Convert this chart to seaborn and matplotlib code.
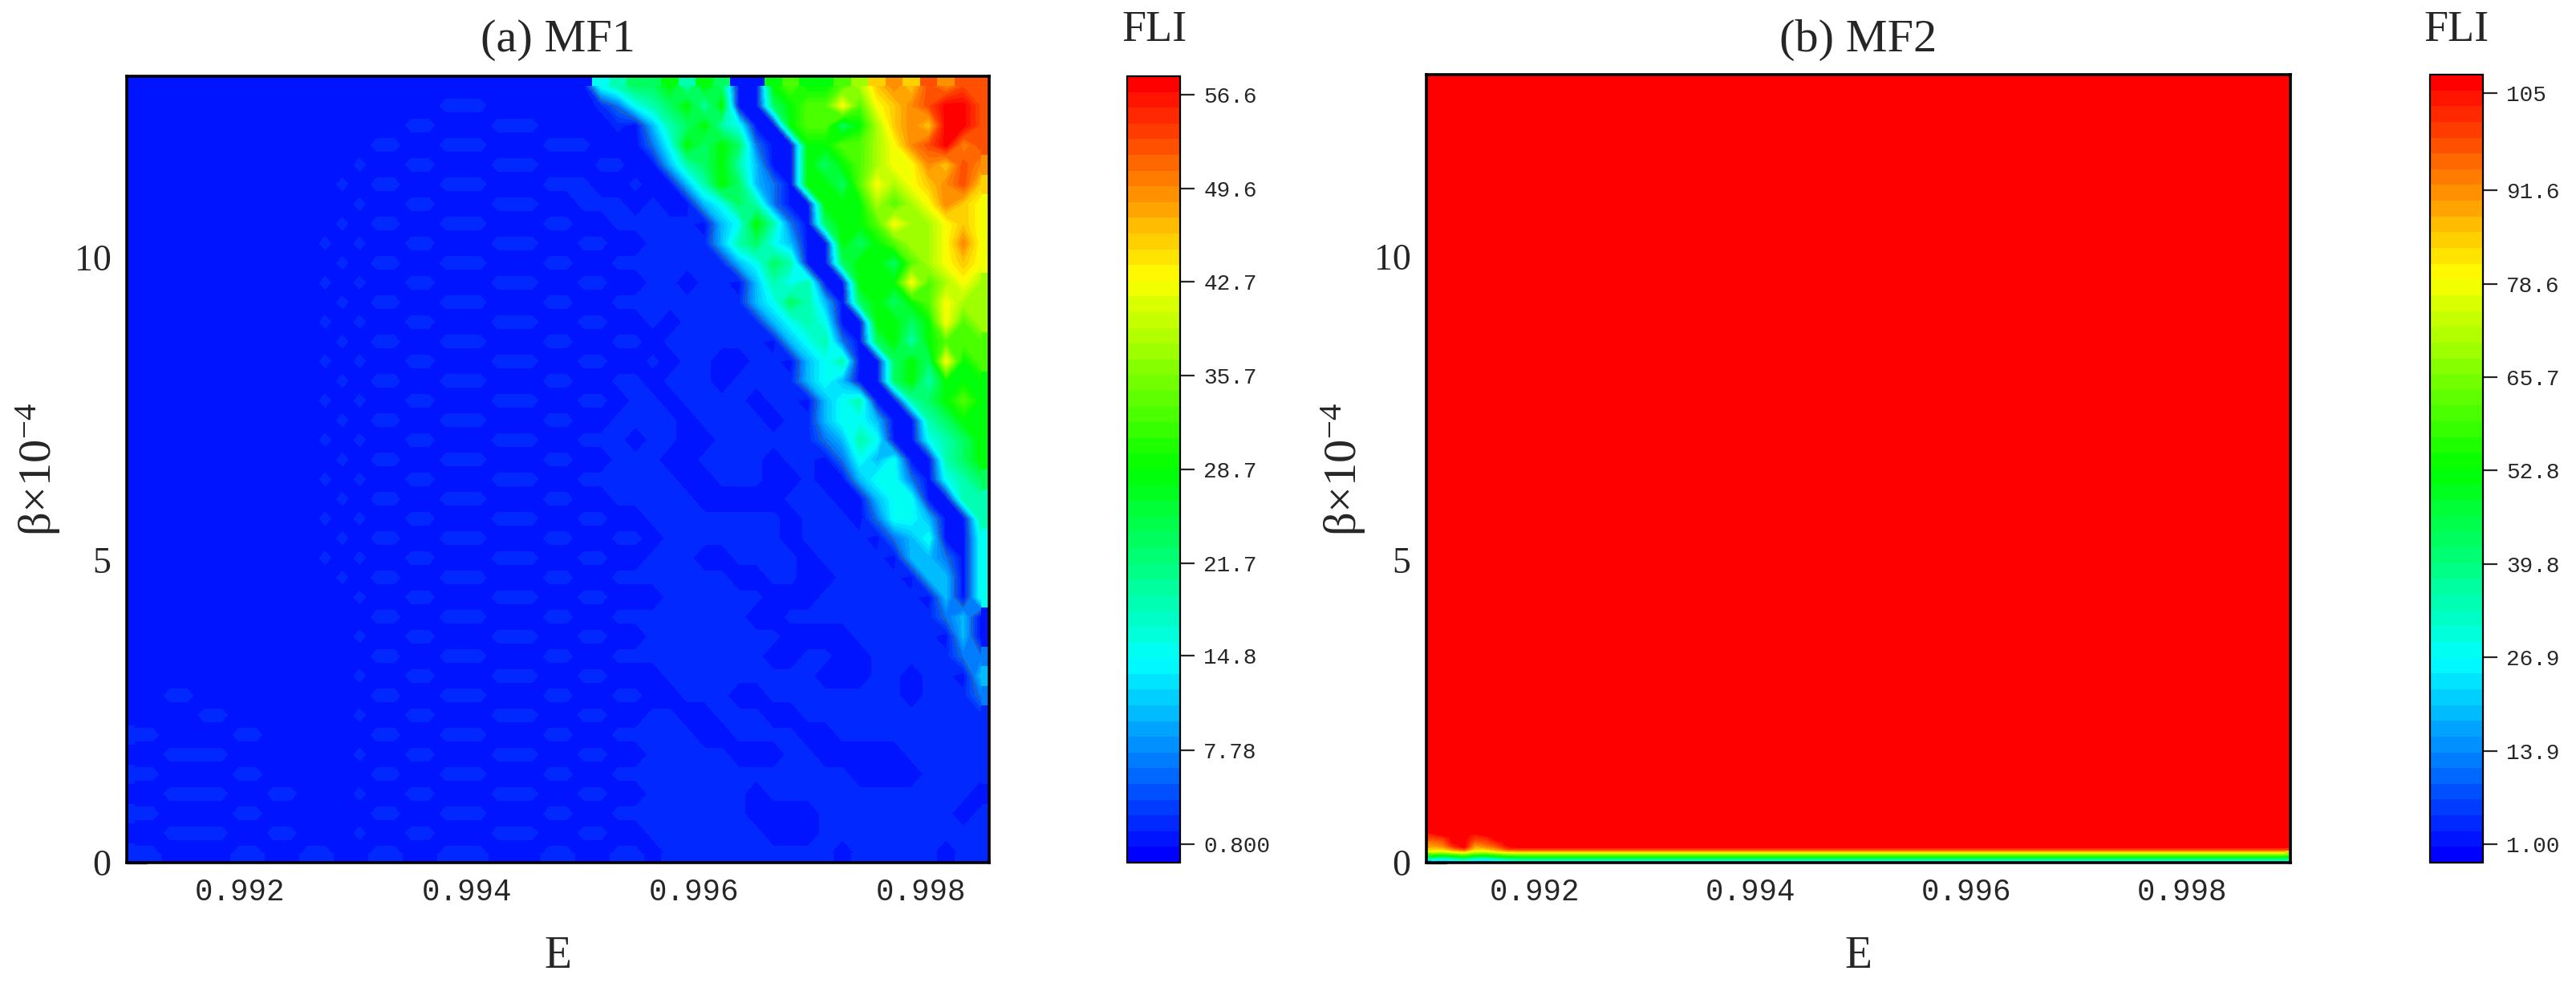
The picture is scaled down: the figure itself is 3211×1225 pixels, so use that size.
import numpy as np
import seaborn as sns
import matplotlib
matplotlib.use('Agg')
import matplotlib.pyplot as plt
from matplotlib.colors import LinearSegmentedColormap, ListedColormap

sns.set_style('ticks')
plt.rcParams['font.family'] = ['Liberation Serif', 'DejaVu Serif']
plt.rcParams['mathtext.fontset'] = 'custom'
plt.rcParams['mathtext.rm'] = 'Liberation Serif'
plt.rcParams['mathtext.default'] = 'regular'

W, H = 3212, 1225
TICK_FONT = 'Liberation Mono'

# fli codes used in the MF1 rows below
code_chars = '0123456789abcde'
code_values = [2.2, 0.8, 6.5, 10.5, 15, 19, 23, 28.5, 33, 38, 42.7, 46, 49.6, 53, 57.5]

# MF1, top row is beta=13, left column is E=0.991
mf1_rows = [
    '1111111111 1111111111 1111111456 6757611787 789bcbdcdd',
    '1111111111 1111111100 0111111024 5675711678 8a8abcdeed',
    '1111111111 1111110011 1000111101 3567541178 8679bcbeed',
    '1111111111 1111001100 0111000111 2476762117 7889acdecd',
    '1111111111 1110110011 1000111001 1356753117 6789aacbdc',
    '1111111111 1101001100 0111000110 1135763217 768a9abcdb',
    '1111111111 1110110011 1000110001 0113465211 777989acba',
    '1111111111 1101001100 0111001100 0001347521 6778a99aba',
    '1111111111 1010110011 1000110011 0000356431 1767899aca',
    '1111111111 1101001100 0111001100 0000034651 1677689aba',
    '1111111111 1010110011 1000110011 0010013545 11777a89a9',
    '1111111111 1101001100 0111001100 0000003465 3167678a99',
    '1111111111 1010110011 1000110011 0100000345 4117767a89',
    '1111111111 1101001100 0111001100 1000000134 5216757888',
    '1111111111 1010110011 1000110011 0100110013 4511676a78',
    '1111111111 1101001100 0111001100 1000100003 4311675777',
    '1111111111 1010110011 1000110010 0100001001 3451156787',
    '1111111111 1101001100 0111001100 0010000100 3443115677',
    '1111111111 1010110011 1000110001 0011000000 2354114567',
    '1111111111 1101001100 0111001100 0110000100 1243411567',
    '1111111111 1010110011 1000110000 0011000110 1134421456',
    '1111111111 1101001100 0111001100 0001111100 0113441155',
    '1111111111 1010110011 1000110011 0000000010 0012443115',
    '1111111111 1101001100 0111001100 1000000010 0001234114',
    '1111111111 1010110011 1000110011 0001100001 0000133214',
    '1111111111 1101001100 0111001100 0000011001 1000013314',
    '1111111111 1110110011 1000110011 1000000111 0000001314',
    '1111111111 1111001100 0111001100 0000001100 0000000231',
    '1111111111 1110110011 1000110011 0000000011 1100000131',
    '1111111111 1111001100 0111001100 0000000110 0110000022',
    '1111111111 1110110011 1000110011 1000000000 1110010013',
    '1100111111 1111001100 0111001100 1100011000 0000010002',
    '1111001111 1110110011 1000110011 0011000110 0000000000',
    '0011110011 1111001100 0111001100 0001100001 1000000000',
    '1100001111 1110110011 1000110011 0000011100 1111100000',
    '0011110011 1111001100 0111001100 0000000000 0011110000',
    '1100001100 1110110011 1000110011 0000001000 0000000001',
    '0011110011 1111001100 0111001100 0000001111 0000000010',
    '1100001100 1110110011 1000110011 0000000111 0000000000',
    '0011110011 0011001100 0111001100 1000000000 0100000100',
]

# MF2 bottom rows, first row is lowest, ten left columns near E=0.991
mf2_low = [
    [20, 18, 20, 26, 20, 18, 22, 25, 27, 27],
    [32, 28, 32, 36, 30, 28, 32, 36, 38, 40],
    [48, 44, 48, 52, 46, 44, 50, 52, 53, 53],
    [60, 58, 62, 66, 60, 58, 62, 66, 68, 68],
    [76, 74, 80, 84, 74, 74, 80, 84, 85, 85],
    [85, 84, 92, 98, 84, 85, 90, 98, 100, 100],
    [88, 90, 100, 107, 88, 92, 96, 104, 107, 107],
    [92, 94, 104, 107, 92, 95, 100, 107, 107, 107],
    [94, 96, 107, 107, 96, 98, 103, 107, 107, 107],
    [97, 99, 107, 107, 99, 100, 107, 107, 107, 107],
    [100, 102, 107, 107, 102, 103, 107, 107, 107, 107],
    [103, 107, 107, 107, 104, 107, 107, 107, 107, 107],
]
mf2_tail = [27, 40, 53, 68, 85, 100, 107, 107, 107, 107, 107, 107]
mf2_top = 107

mf1_cbar_ticks = [0.8, 7.78, 14.8, 21.7, 28.7, 35.7, 42.7, 49.6, 56.6]
mf1_cbar_labels = ['0.800', '7.78', '14.8', '21.7', '28.7', '35.7', '42.7', '49.6', '56.6']
mf2_cbar_ticks = [1.0, 13.9, 26.9, 39.8, 52.8, 65.7, 78.6, 91.6, 105]
mf2_cbar_labels = ['1.00', '13.9', '26.9', '39.8', '52.8', '65.7', '78.6', '91.6', '105']
e_major = [0.992, 0.994, 0.996, 0.998]
e_minor = [0.993, 0.995, 0.997]
beta_major = [0, 5, 10]
beta_minor = [2.5, 7.5, 12.5]
BETA_MAX = 13.0
N_LEVELS = 50

rainbow = LinearSegmentedColormap.from_list('fli', ['#0000ff', '#00ffff', '#00ff00', '#ffff00', '#ff0000'])
fli_cmap = ListedColormap(rainbow(np.linspace(0, 1, N_LEVELS)))

lookup = dict(zip(code_chars, code_values))
mf1 = np.array([[lookup[c] for c in r.replace(' ', '')] for r in mf1_rows])

n_cols2, n_rows2 = 80, 325
low = np.hstack([np.array(mf2_low), np.tile(np.array(mf2_tail)[:, None], (1, n_cols2 - 10))])
mf2 = np.full((n_rows2, n_cols2), float(mf2_top))
mf2[-len(low):] = low[::-1]


def px_box(x0, y0, x1, y1):
    return [x0 / W, 1 - y1 / H, (x1 - x0) / W, (y1 - y0) / H]


def draw_panel(field, box, cbox, e_max, vmin, vmax, ticks, labels, title, ylab_x, fli_x, outline=None):
    ax = fig.add_axes(px_box(*box))
    cax = fig.add_axes(px_box(*cbox))
    sns.heatmap(field, ax=ax, cbar_ax=cax, cmap=fli_cmap, vmin=vmin, vmax=vmax,
                xticklabels=False, yticklabels=False)
    nr, nc = field.shape
    xx = np.arange(nc) + 0.5
    yy = np.arange(nr) + 0.5
    # smooth the cells like the original contour map
    ax.contourf(xx, yy, field, levels=np.linspace(vmin, vmax, N_LEVELS + 1), cmap=fli_cmap, extend='both')
    if outline is not None:
        ax.contour(xx, yy, field, levels=[outline], colors='#50506a', linewidths=0.8, alpha=0.8)

    to_x = lambda e: (np.array(e) - 0.991) / (e_max - 0.991) * nc
    to_y = lambda b: (BETA_MAX - np.array(b)) / BETA_MAX * nr
    ax.set_xlim(0, nc)
    ax.set_ylim(nr, 0)
    ax.set_xticks(to_x(e_major))
    ax.set_xticklabels(['%.3f' % e for e in e_major], fontsize=27, family=TICK_FONT)
    ax.set_xticks(to_x(e_minor), minor=True)
    ax.set_yticks(to_y(beta_major))
    ax.set_yticklabels([str(b) for b in beta_major], fontsize=33, rotation=0)
    ax.set_yticks(to_y(beta_minor), minor=True)
    ax.tick_params(which='major', direction='in', length=18, width=2.4, pad=14, left=True, bottom=True)
    ax.tick_params(which='minor', direction='in', length=9, width=2.2, left=True, bottom=True)
    for s in ax.spines.values():
        s.set_visible(True)
        s.set_linewidth(2.6)
        s.set_color('black')

    cb = ax.collections[0].colorbar
    cb.set_ticks(ticks)
    cb.set_ticklabels(labels)
    cb.ax.minorticks_off()
    cb.ax.tick_params(direction='out', length=13, width=1.6, pad=8, labelsize=20)
    for t in cb.ax.get_yticklabels():
        t.set_family(TICK_FONT)
    cb.outline.set_visible(True)
    cb.outline.set_linewidth(1.6)
    cb.outline.set_edgecolor('black')

    xc = (box[0] + box[2]) / 2 / W
    fig.text(xc, 1 - 50 / H, title, fontsize=42, ha='center', va='center')
    fig.text(xc, 1 - 1192 / H, 'E', fontsize=40, ha='center', va='center')
    fig.text(ylab_x / W, 1 - 585 / H, 'β×10$^{-4}$', fontsize=42, rotation=90, ha='center', va='center')
    fig.text(fli_x / W, 1 - 38 / H, 'FLI', fontsize=39, ha='center', va='center')


fig = plt.figure(figsize=(W / 100, H / 100), dpi=100)
draw_panel(mf1, (158, 95, 1233, 1075), (1405, 95, 1471, 1075), 0.9986, -0.6, 58.0,
           mf1_cbar_ticks, mf1_cbar_labels, '(a) MF1', 48, 1439, outline=5.5)
draw_panel(mf2, (1778, 93, 2855, 1075), (3029, 93, 3095, 1075), 0.999, -1.6, 107.6,
           mf2_cbar_ticks, mf2_cbar_labels, '(b) MF2', 1675, 3062)
fig.savefig('out.png', dpi=100)
